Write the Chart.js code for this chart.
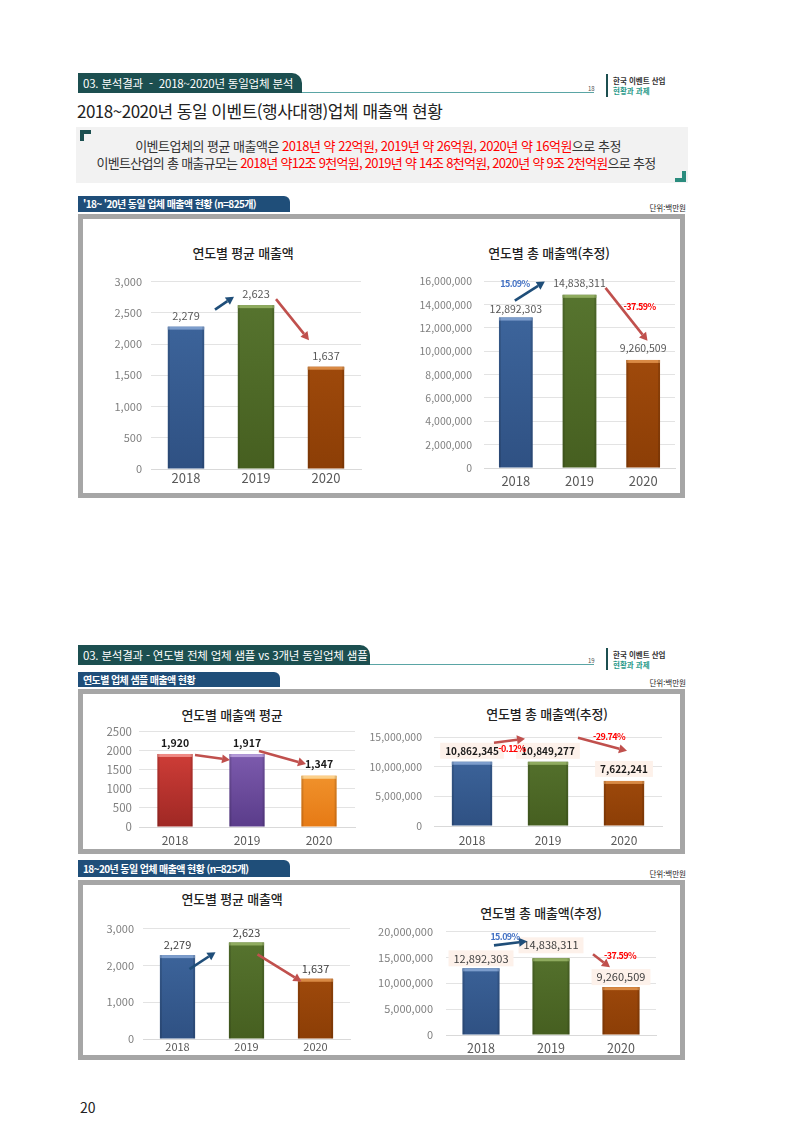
<!DOCTYPE html>
<html lang="ko">
<head>
<meta charset="utf-8">
<script src="https://cdn.jsdelivr.net/npm/chart.js@4.4.1/dist/chart.umd.min.js"></script>
<style>
body { margin:0; background:#fff; font-family:"Noto Sans CJK KR", sans-serif; }
#page { position:relative; width:800px; height:1132px; overflow:hidden; }
.a { position:absolute; white-space:nowrap; }
.tab { position:absolute; background:#1c4f50; color:#fff; border-radius:0 10px 0 0; font-size:11.5px; padding-left:5px; box-sizing:border-box; white-space:nowrap; letter-spacing:-0.2px; }
.sub { position:absolute; background:#1f4e79; color:#fff; border-radius:0 6px 0 0; font-size:10px; font-weight:bold; padding-left:5px; box-sizing:border-box; white-space:nowrap; letter-spacing:-0.6px; }
.box { position:absolute; border:5px solid #a6a6a6; box-sizing:border-box; background:#fff; }
.unit { position:absolute; font-size:7.5px; color:#222; white-space:nowrap; }
.ttl { position:absolute; transform:translate(-50%,-50%); font-size:13px; color:#222; white-space:nowrap; font-weight:500; letter-spacing:-0.2px; }
.red { color:#ff0000; }
canvas { position:absolute; }
</style>
</head>
<body>
<div id="page">
  <!-- page 18 header -->
  <div class="tab" style="left:78px;top:73px;width:224px;height:20px;line-height:20px;">03. 분석결과 &nbsp;-&nbsp; 2018~2020년 동일업체 분석</div>
  <div class="a" style="left:302px;top:92px;width:292px;height:1px;background:#5aa5a5;"></div>
  <div class="a" style="left:588px;top:84px;font-size:6px;color:#555;">18</div>
  <div class="a" style="left:606px;top:74px;width:2px;height:23px;background:#1c4f50;"></div>
  <div class="a" style="left:613px;top:75px;font-size:7.5px;font-weight:bold;color:#333;">한국 이벤트 산업</div>
  <div class="a" style="left:613px;top:85px;font-size:7.5px;font-weight:bold;color:#2a9a8a;">현황과 과제</div>

  <div class="a" style="left:77px;top:98px;font-size:17px;color:#222;letter-spacing:-0.5px;">2018~2020년 동일 이벤트(행사대행)업체 매출액 현황</div>

  <div class="a" style="left:76px;top:127px;width:612px;height:56px;background:#f2f2f2;"></div>
  <div class="a" style="left:80px;top:130px;width:11px;height:4px;background:#1c4f50;"></div>
  <div class="a" style="left:80px;top:130px;width:4px;height:11px;background:#1c4f50;"></div>
  <div class="a" style="left:675px;top:178px;width:11px;height:4px;background:#2b8c7e;"></div>
  <div class="a" style="left:682px;top:171px;width:4px;height:11px;background:#2b8c7e;"></div>
  <div class="a" style="left:378px;top:145px;transform:translate(-50%,-50%);font-size:13px;color:#333;letter-spacing:-0.5px;">이벤트업체의 평균 매출액은 <span class="red">2018년 약 22억원, 2019년 약 26억원, 2020년 약 16억원</span>으로 추정</div>
  <div class="a" style="left:376px;top:162px;transform:translate(-50%,-50%);font-size:13px;color:#333;letter-spacing:-0.72px;">이벤트산업의 총 매출규모는 <span class="red">2018년 약12조 9천억원, 2019년 약 14조 8천억원, 2020년 약 9조 2천억원</span>으로 추정</div>

  <div class="sub" style="left:78px;top:196px;width:212px;height:16px;line-height:16px;">'18~ '20년 동일 업체 매출액 현황 (n=825개)</div>
  <div class="unit" style="right:114px;top:202px;">단위:백만원</div>
  <div class="box" style="left:78px;top:214px;width:607px;height:284px;"></div>
  <div class="ttl" style="left:243px;top:252px;">연도별 평균 매출액</div>
  <div class="ttl" style="left:549px;top:252px;">연도별 총 매출액(추정)</div>

  <!-- page 19 header -->
  <div class="tab" style="left:78px;top:645px;width:292px;height:20px;line-height:20px;">03. 분석결과 - 연도별 전체 업체 샘플 vs 3개년 동일업체 샘플</div>
  <div class="a" style="left:370px;top:664px;width:224px;height:1px;background:#5aa5a5;"></div>
  <div class="a" style="left:588px;top:656px;font-size:6px;color:#555;">19</div>
  <div class="a" style="left:606px;top:648px;width:2px;height:22px;background:#1c4f50;"></div>
  <div class="a" style="left:613px;top:649px;font-size:7.5px;font-weight:bold;color:#333;">한국 이벤트 산업</div>
  <div class="a" style="left:613px;top:659px;font-size:7.5px;font-weight:bold;color:#2a9a8a;">현황과 과제</div>

  <div class="sub" style="left:78px;top:672px;width:202px;height:15px;line-height:15px;">연도별 업체 샘플 매출액 현황</div>
  <div class="unit" style="right:114px;top:677px;">단위:백만원</div>
  <div class="box" style="left:78px;top:689px;width:607px;height:165px;"></div>
  <div class="ttl" style="left:232px;top:714px;">연도별 매출액 평균</div>
  <div class="ttl" style="left:547px;top:713px;">연도별 총 매출액(추정)</div>

  <div class="sub" style="left:78px;top:860px;width:212px;height:17px;line-height:17px;">18~20년 동일 업체 매출액 현황 (n=825개)</div>
  <div class="unit" style="right:114px;top:868px;">단위:백만원</div>
  <div class="box" style="left:78px;top:880px;width:607px;height:180px;"></div>
  <div class="ttl" style="left:232px;top:898px;">연도별 평균 매출액</div>
  <div class="ttl" style="left:541px;top:912px;">연도별 총 매출액(추정)</div>

  <div class="a" style="left:80px;top:1097px;font-size:14px;color:#222;">20</div>

  <canvas id="c1" width="276" height="223" style="left:91px;top:266px;"></canvas>
  <canvas id="c2" width="287" height="227" style="left:394px;top:263px;"></canvas>
  <canvas id="c3" width="272" height="129" style="left:89px;top:718px;"></canvas>
  <canvas id="c4" width="324" height="129" style="left:344px;top:719px;"></canvas>
  <canvas id="c5" width="263" height="146" style="left:93px;top:913px;"></canvas>
  <canvas id="c6" width="306" height="145" style="left:356px;top:912px;"></canvas>
</div>

<script>
// data
const years = ['2018', '2019', '2020'];
const avgSales = [2279, 2623, 1637];                 // 동일업체 평균 매출액
const totalSales = [12892303, 14838311, 9260509];    // 동일업체 총 매출액(추정)
const allAvgSales = [1920, 1917, 1347];              // 전체 샘플 평균 매출액
const allTotalSales = [10862345, 10849277, 7622241]; // 전체 샘플 총 매출액(추정)
const totalChange = ['15.09%', '-37.59%'];
const allTotalChange = ['-0.12%', '-29.74%'];

const FONT = '"Noto Sans CJK KR", sans-serif';

// bar colours: [top, bottom, cap]
const BLUE = ['#4069a1', '#2f5183', '#7c9dcc'];
const GREEN = ['#587630', '#465f20', '#8fab5f'];
const BROWN = ['#ad520f', '#8c3e06', '#d98a45'];
const RED = ['#dc433d', '#9f2824', '#ef8a85'];
const PURPLE = ['#8764b8', '#5a3c8a', '#b49ad8'];
const ORANGE = ['#f9a63e', '#e67a15', '#fcd08a'];

const fmt = v => v.toLocaleString('en-US');

function arrow(ctx, x1, y1, x2, y2, color) {
  const ang = Math.atan2(y2 - y1, x2 - x1);
  const hl = 8, hw = 4.5;
  const bx = x2 - hl * Math.cos(ang), by = y2 - hl * Math.sin(ang);
  ctx.save();
  ctx.strokeStyle = color;
  ctx.fillStyle = color;
  ctx.lineWidth = 2.6;
  ctx.beginPath();
  ctx.moveTo(x1, y1);
  ctx.lineTo(bx, by);
  ctx.stroke();
  ctx.beginPath();
  ctx.moveTo(x2, y2);
  ctx.lineTo(bx + hw * Math.sin(ang), by - hw * Math.cos(ang));
  ctx.lineTo(bx - hw * Math.sin(ang), by + hw * Math.cos(ang));
  ctx.closePath();
  ctx.fill();
  ctx.restore();
}

const extras = {
  id: 'extras',
  afterDatasetsDraw(chart) {
    const o = chart.options.plugins.extras;
    const ctx = chart.ctx;
    const bars = chart.getDatasetMeta(0).data;
    // top cap on bars
    bars.forEach((b, i) => {
      ctx.save();
      ctx.fillStyle = o.colors[i][2];
      ctx.fillRect(b.x - b.width / 2, b.y, b.width, 3);
      ctx.fillStyle = 'rgba(0,0,0,0.12)';
      ctx.fillRect(b.x - b.width / 2, b.y, 2, b.base - b.y);
      ctx.fillRect(b.x + b.width / 2 - 2, b.y, 2, b.base - b.y);
      ctx.restore();
    });
    // value labels
    const vals = chart.data.datasets[0].data;
    ctx.save();
    ctx.font = o.labelFont;
    ctx.textAlign = 'center';
    ctx.textBaseline = 'middle';
    bars.forEach((b, i) => {
      const t = fmt(vals[i]);
      const y = b.y + o.labelDy[i];
      if (o.labelBg) {
        const w = ctx.measureText(t).width + 10;
        ctx.fillStyle = o.labelBg;
        ctx.fillRect(b.x - w / 2, y - 8, w, 16);
      }
      ctx.fillStyle = o.labelColor;
      ctx.fillText(t, b.x, y);
    });
    ctx.restore();
    // arrows and change labels
    (o.arrows || []).forEach(a => {
      const b = bars[a.bar];
      arrow(ctx, b.x + a.from[0], b.y + a.from[1], b.x + a.to[0], b.y + a.to[1], a.color);
    });
    (o.notes || []).forEach(n => {
      const b = bars[n.bar];
      ctx.save();
      ctx.font = 'bold 9px ' + FONT;
      ctx.letterSpacing = '-0.6px';
      ctx.fillStyle = n.color;
      ctx.textAlign = 'center';
      ctx.textBaseline = 'middle';
      ctx.fillText(n.text, b.x + n.dx, b.y + n.dy);
      ctx.restore();
    });
  }
};

function makeBar(id, values, o) {
  return new Chart(document.getElementById(id), {
    type: 'bar',
    data: {
      labels: years,
      datasets: [{
        data: values,
        backgroundColor: c => {
          const col = o.colors[c.dataIndex];
          const area = c.chart.chartArea;
          if (!area) return col[0];
          const g = c.chart.ctx.createLinearGradient(0, area.top, 0, area.bottom);
          g.addColorStop(0, col[0]);
          g.addColorStop(1, col[1]);
          return g;
        },
        borderWidth: 0,
        barPercentage: o.barPct,
        categoryPercentage: 1
      }]
    },
    options: {
      responsive: false,
      animation: false,
      layout: { padding: { top: 10, right: 6, left: 0, bottom: 0 } },
      scales: {
        x: {
          grid: { display: false, drawTicks: false },
          border: { display: true, color: '#d9d9d9' },
          ticks: { color: '#595959', font: { family: FONT, size: o.xSize }, padding: o.xPad },
          afterFit: s => { s.height = o.xH; }
        },
        y: {
          min: 0,
          max: o.max,
          grid: { color: '#e3e3e3', drawTicks: false },
          border: { display: false },
          ticks: {
            stepSize: o.step,
            color: '#7f7f7f',
            padding: o.yPad,
            font: { family: FONT, size: o.ySize },
            callback: o.yFmt
          },
          afterFit: s => { s.width = o.yW; }
        }
      },
      plugins: {
        legend: { display: false },
        tooltip: { enabled: false },
        extras: o
      }
    },
    plugins: [extras]
  });
}

const comma = v => fmt(v);
const plain = v => String(v);

makeBar('c1', avgSales, {
  colors: [BLUE, GREEN, BROWN], barPct: 0.52, max: 3000, step: 500, yFmt: comma,
  yW: 60, yPad: 9, ySize: 11, xSize: 13, xPad: 1, xH: 20,
  labelFont: '11px ' + FONT, labelColor: '#595959', labelDy: [-11, -11, -11],
  arrows: [
    { bar: 0, from: [29, -17], to: [48, -30], color: '#1f4e79' },
    { bar: 1, from: [20, -6], to: [53, 35], color: '#c0504d' }
  ]
});

makeBar('c2', totalSales, {
  colors: [BLUE, GREEN, BROWN], barPct: 0.53, max: 16000000, step: 2000000, yFmt: comma,
  yW: 90, yPad: 12, ySize: 10.5, xSize: 13, xPad: 5, xH: 22,
  labelFont: '10.5px ' + FONT, labelColor: '#595959', labelDy: [-9, -12, -12],
  arrows: [
    { bar: 0, from: [-1, -17], to: [29, -36], color: '#1f4e79' },
    { bar: 1, from: [26, -7], to: [68, 46], color: '#c0504d' }
  ],
  notes: [
    { bar: 0, dx: -1, dy: -34, text: totalChange[0], color: '#4472c4' },
    { bar: 1, dx: 60, dy: 12, text: totalChange[1], color: '#ff0000' }
  ]
});

makeBar('c3', allAvgSales, {
  colors: [RED, PURPLE, ORANGE], barPct: 0.49, max: 2500, step: 500, yFmt: plain,
  yW: 50, yPad: 7, ySize: 11.5, xSize: 12, xPad: 6, xH: 20,
  labelFont: 'bold 10.5px ' + FONT, labelColor: '#1a1a1a', labelDy: [-11, -11, -12],
  arrows: [
    { bar: 0, from: [20, 1], to: [55, 6], color: '#c0504d' },
    { bar: 1, from: [12, -3], to: [59, 10], color: '#c0504d' }
  ]
});

makeBar('c4', allTotalSales, {
  colors: [BLUE, GREEN, BROWN], barPct: 0.53, max: 15000000, step: 5000000, yFmt: comma,
  yW: 90, yPad: 12, ySize: 10.5, xSize: 12, xPad: 7, xH: 22,
  labelFont: 'bold 10px ' + FONT, labelColor: '#1a1a1a', labelDy: [-11, -11, -12],
  labelBg: '#fdf1ea',
  arrows: [
    { bar: 0, from: [22, -19], to: [53, -23], color: '#c0504d' },
    { bar: 1, from: [30, -24], to: [79, -11], color: '#c0504d' }
  ],
  notes: [
    { bar: 0, dx: 40, dy: -13, text: allTotalChange[0], color: '#ff0000' },
    { bar: 1, dx: 61, dy: -25, text: allTotalChange[1], color: '#ff0000' }
  ]
});

makeBar('c5', avgSales, {
  colors: [BLUE, GREEN, BROWN], barPct: 0.51, max: 3000, step: 1000, yFmt: comma,
  yW: 50, yPad: 9, ySize: 11, xSize: 11, xPad: 1, xH: 20,
  labelFont: '11px ' + FONT, labelColor: '#404040', labelDy: [-10, -10, -10],
  arrows: [
    { bar: 0, from: [12, 14], to: [38, -3], color: '#1f4e79' },
    { bar: 1, from: [11, 12], to: [55, 39], color: '#c0504d' }
  ]
});

makeBar('c6', totalSales, {
  colors: [BLUE, GREEN, BROWN], barPct: 0.53, max: 20000000, step: 5000000, yFmt: comma,
  yW: 90, yPad: 13, ySize: 11, xSize: 12.5, xPad: 6, xH: 22,
  labelFont: '11px ' + FONT, labelColor: '#404040', labelDy: [-10, -13, -10],
  labelBg: '#fdf1ea',
  arrows: [
    { bar: 0, from: [13, -23], to: [46, -27], color: '#1f4e79' },
    { bar: 1, from: [42, -4], to: [59, 9], color: '#c0504d' }
  ],
  notes: [
    { bar: 0, dx: 24, dy: -32, text: totalChange[0], color: '#4472c4' },
    { bar: 1, dx: 69, dy: -3, text: totalChange[1], color: '#ff0000' }
  ]
});
</script>
</body>
</html>
